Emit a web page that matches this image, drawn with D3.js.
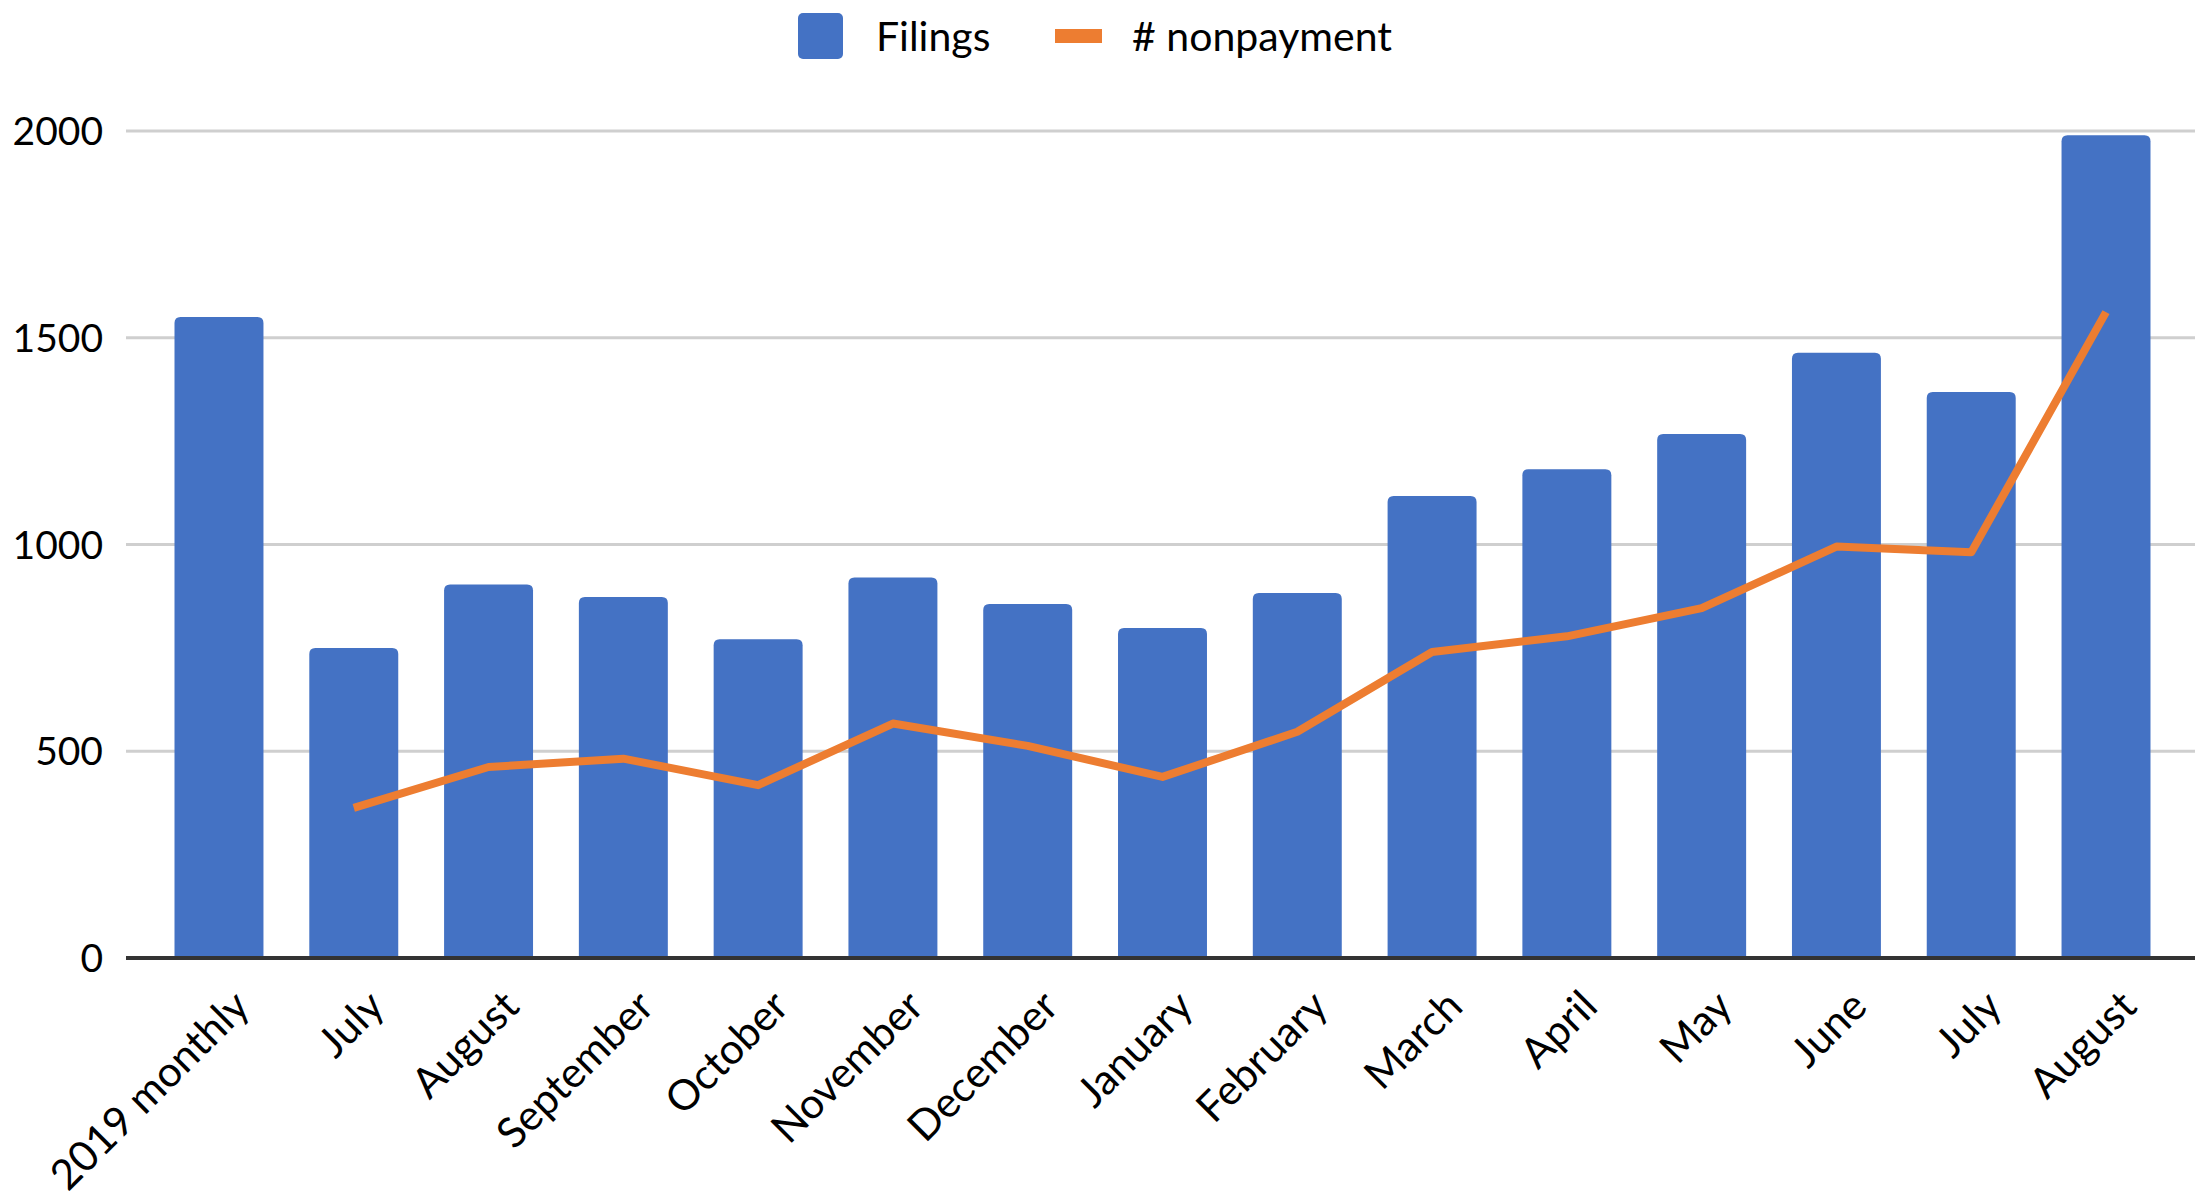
<!DOCTYPE html>
<html>
<head>
<meta charset="utf-8">
<script src="https://cdn.jsdelivr.net/npm/d3@7/dist/d3.min.js"></script>
<style>
  body { margin: 0; background: #fff; }
  svg text { font-family: Lato, "Open Sans", sans-serif; fill: #000; }
</style>
</head>
<body>
<div class="graphbox"></div>
<script>
var months = ["2019 monthly","July","August","September","October","November","December","January","February","March","April","May","June","July","August"]
var filings = [1550,750,903,873,771,920,856,798,883,1117,1182,1267,1464,1369,1990]
var nonpayment = [null,363,462,482,418,567,513,438,547,740,778,846,995,981,1562]
var yTicks = [0,500,1000,1500,2000]

var svgWidth = 2203;
var svgHeight = 1197;
var plotLeft = 126, plotRight = 2195, plotTop = 131, plotBottom = 958;

var mysvg = d3.select(".graphbox")
  .append("svg")
  .attr("width", svgWidth)
  .attr("height", svgHeight)
 ;

// band keyed by index, since "July"/"August" repeat
var x = d3.scaleBand()
  .domain(d3.range(months.length))
  .range([plotLeft + 2, plotRight + 2])
  .paddingInner(0.34)
  .paddingOuter(0.345)
 ;

var y = d3.scaleLinear()
  .domain([0, 2000])
  .range([plotBottom, plotTop])
 ;

// gridlines
mysvg.selectAll("line.grid")
  .data(yTicks.slice(1))
  .enter()
  .append("line")
  .attr("class","grid")
  .attr("x1", plotLeft)
  .attr("x2", plotRight)
  .attr("y1", function(d) { return y(d); })
  .attr("y2", function(d) { return y(d); })
  .attr("stroke","#cfcfcf")
  .attr("stroke-width", 3)
 ;

// y labels
mysvg.selectAll("text.ylab")
  .data(yTicks)
  .enter()
  .append("text")
  .attr("class","ylab")
  .attr("x", 103)
  .attr("y", function(d) { return y(d); })
  .attr("dy","0.36em")
  .attr("text-anchor","end")
  .style("font-size","39px")
  .text(function(d) { return d; })
 ;

// bars with rounded tops
var r = 6;
var barPath = function(d, i) {
  var x0 = x(i), w = x.bandwidth(), y0 = y(d), y1 = y(0);
  return "M" + x0 + "," + y1 +
    "V" + (y0 + r) +
    "Q" + x0 + "," + y0 + " " + (x0 + r) + "," + y0 +
    "H" + (x0 + w - r) +
    "Q" + (x0 + w) + "," + y0 + " " + (x0 + w) + "," + (y0 + r) +
    "V" + y1 + "Z";
};

mysvg.selectAll("path.bar")
  .data(filings)
  .enter()
  .append("path")
  .attr("class","bar")
  .attr("d", barPath)
  .attr("fill","#4472C4")
 ;

// zero axis line
mysvg.append("line")
  .attr("x1", plotLeft)
  .attr("x2", plotRight)
  .attr("y1", y(0))
  .attr("y2", y(0))
  .attr("stroke","#333")
  .attr("stroke-width", 4)
 ;

// nonpayment line
var line = d3.line()
  .defined(function(d) { return d != null; })
  .x(function(d, i) { return x(i) + x.bandwidth() / 2; })
  .y(function(d) { return y(d); })
 ;

mysvg.append("path")
  .datum(nonpayment)
  .attr("d", line)
  .attr("fill","none")
  .attr("stroke","#ED7D31")
  .attr("stroke-width", 8)
  .attr("stroke-linejoin","round")
 ;

// x labels
mysvg.selectAll("text.xlab")
  .data(months)
  .enter()
  .append("text")
  .attr("class","xlab")
  .attr("text-anchor","end")
  .attr("transform", function(d, i) {
    return "translate(" + (x(i) + x.bandwidth() / 2 + 12) + "," + (plotBottom + 30) + ") rotate(-45)";
  })
  .attr("dy","0.7em")
  .style("font-size","42px")
  .text(function(d) { return d; })
 ;

// legend
var legend = mysvg.append("g");
legend.append("rect")
  .attr("x", 798).attr("y", 13)
  .attr("width", 45).attr("height", 46)
  .attr("rx", 5)
  .attr("fill","#4472C4");
legend.append("text")
  .attr("x", 876).attr("y", 36).attr("dy","0.36em")
  .style("font-size","41px")
  .text("Filings");
legend.append("rect")
  .attr("x", 1055).attr("y", 29)
  .attr("width", 47).attr("height", 14)
  .attr("fill","#ED7D31");
legend.append("text")
  .attr("x", 1132).attr("y", 36).attr("dy","0.36em")
  .style("font-size","41px")
  .text("# nonpayment");
</script>
</body>
</html>
